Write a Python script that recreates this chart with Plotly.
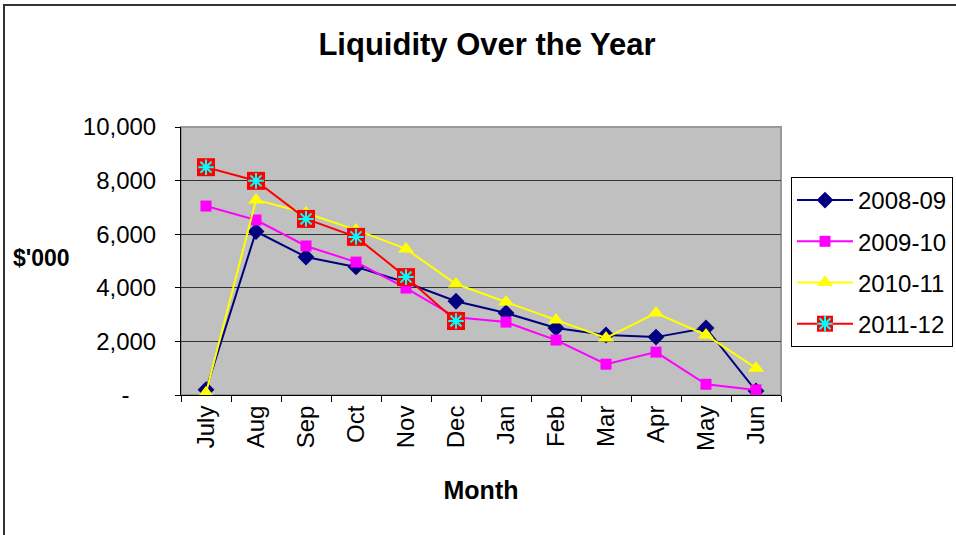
import plotly.graph_objects as go

months = ["July", "Aug", "Sep", "Oct", "Nov", "Dec", "Jan", "Feb", "Mar", "Apr", "May", "Jun"]
s2008 = [200, 6100, 5150, 4780, 4200, 3500, 3060, 2500, 2240, 2160, 2500, 150]
s2009 = [7050, 6530, 5560, 4960, 3990, 2900, 2720, 2050, 1150, 1600, 400, 190]
s2010 = [80, 7280, 6790, 6160, 5450, 4140, 3470, 2800, 2130, 3060, 2240, 1000]
s2011 = [8500, 7990, 6570, 5900, 4400, 2760]
series_names = ["2008-09", "2009-10", "2010-11", "2011-12"]
ytick_vals = [0, 2000, 4000, 6000, 8000, 10000]
ytick_text = ["-\u00a0\u00a0\u00a0\u00a0", "2,000", "4,000", "6,000", "8,000", "10,000"]

FONT = "Liberation Sans, Arial, sans-serif"

fig = go.Figure()
fig.add_trace(go.Scatter(x=months, y=s2008, name=series_names[0], mode="lines+markers",
                         line=dict(color="#000080", width=2),
                         marker=dict(symbol="diamond", size=13, color="#000080"),
                         legendgroup="a"))
fig.add_trace(go.Scatter(x=months, y=s2009, name=series_names[1], mode="lines+markers",
                         line=dict(color="#FF00FF", width=2),
                         marker=dict(symbol="square", size=11, color="#FF00FF"),
                         legendgroup="b"))
fig.add_trace(go.Scatter(x=months, y=s2010, name=series_names[2], mode="lines+markers",
                         line=dict(color="#FFFF00", width=2),
                         marker=dict(symbol="triangle-up", size=14, color="#FFFF00"),
                         legendgroup="c"))
fig.add_trace(go.Scatter(x=months[:len(s2011)], y=s2011, name=series_names[3], mode="lines+markers",
                         line=dict(color="#FF0000", width=2),
                         marker=dict(symbol="square", size=18, color="#FF0000"),
                         legendgroup="d"))

# overlay legend (legend2) holding the cyan asterisk on the 2011-12 row
for i, nm in enumerate(series_names[:3]):
    fig.add_trace(go.Scatter(x=[None], y=[None], name=nm, mode="markers",
                             marker=dict(size=1, color="rgba(0,0,0,0)"),
                             legend="legend2", legendgroup="g%d" % i, hoverinfo="skip"))
fig.add_trace(go.Scatter(x=months[:len(s2011)], y=s2011, name=series_names[3], mode="markers",
                         marker=dict(symbol="asterisk-open", size=13, color="#00FFFF",
                                     line=dict(color="#00FFFF", width=2)),
                         legend="legend2", legendgroup="g3"))

# outer chart border
fig.add_shape(type="rect", xref="paper", yref="paper",
              x0=(4 - 181) / 600, x1=1.5, y0=-0.7, y1=(395 - 5) / 268,
              line=dict(color="#333333", width=2), fillcolor="rgba(0,0,0,0)", layer="below")
# plot area frame
fig.add_shape(type="rect", xref="paper", yref="paper", x0=0, x1=1, y0=0, y1=1,
              line=dict(color="#999999", width=2), fillcolor="rgba(0,0,0,0)", layer="below")

fig.add_annotation(text="<b>$'000</b>", xref="paper", yref="paper",
                   x=(41 - 181) / 600, y=(395 - 258) / 268, showarrow=False,
                   xanchor="center", yanchor="middle",
                   font=dict(family=FONT, size=23, color="black"))

legend_common = dict(x=(791 - 181) / 600, xanchor="left", y=(395 - 177) / 268, yanchor="top",
                     traceorder="grouped", tracegroupgap=7, itemwidth=56,
                     itemclick=False, itemdoubleclick=False)

fig.update_layout(
    width=956, height=535,
    margin=dict(l=181, r=175, t=127, b=140, autoexpand=False),
    paper_bgcolor="white", plot_bgcolor="#C0C0C0",
    font=dict(family=FONT, color="black"),
    title=dict(text="<b>Liquidity Over the Year</b>", x=(487 / 956), xanchor="center",
               y=1 - 44 / 535, yanchor="middle",
               font=dict(family=FONT, size=31, color="black")),
    legend=dict(**legend_common, bordercolor="black", borderwidth=1, bgcolor="white",
                font=dict(family=FONT, size=24, color="black")),
    legend2=dict(**legend_common, borderwidth=1, bordercolor="rgba(0,0,0,0)",
                 bgcolor="rgba(0,0,0,0)",
                 font=dict(family=FONT, size=24, color="rgba(0,0,0,0)")),
    xaxis=dict(type="category", range=[-0.5, 11.5], tickson="boundaries",
               ticks="outside", ticklen=6, tickcolor="black", showline=True,
               linecolor="black", linewidth=1, tickangle=-90, showgrid=False,
               tickfont=dict(family=FONT, size=24, color="black"),
               title=dict(text="<b>Month</b>", font=dict(family=FONT, size=25, color="black"),
                          standoff=31)),
    yaxis=dict(range=[0, 10000], tickvals=ytick_vals, ticktext=ytick_text,
               ticks="outside", ticklen=5, tickcolor="black", showline=True,
               linecolor="black", linewidth=1, showgrid=True, gridcolor="#333333",
               gridwidth=1, zeroline=False, ticklabelstandoff=14,
               tickfont=dict(family=FONT, size=24, color="black")),
)

fig.write_html("out.html", config={"displayModeBar": False},
               post_script="document.body.style.margin='0';document.body.style.overflow='hidden';")
